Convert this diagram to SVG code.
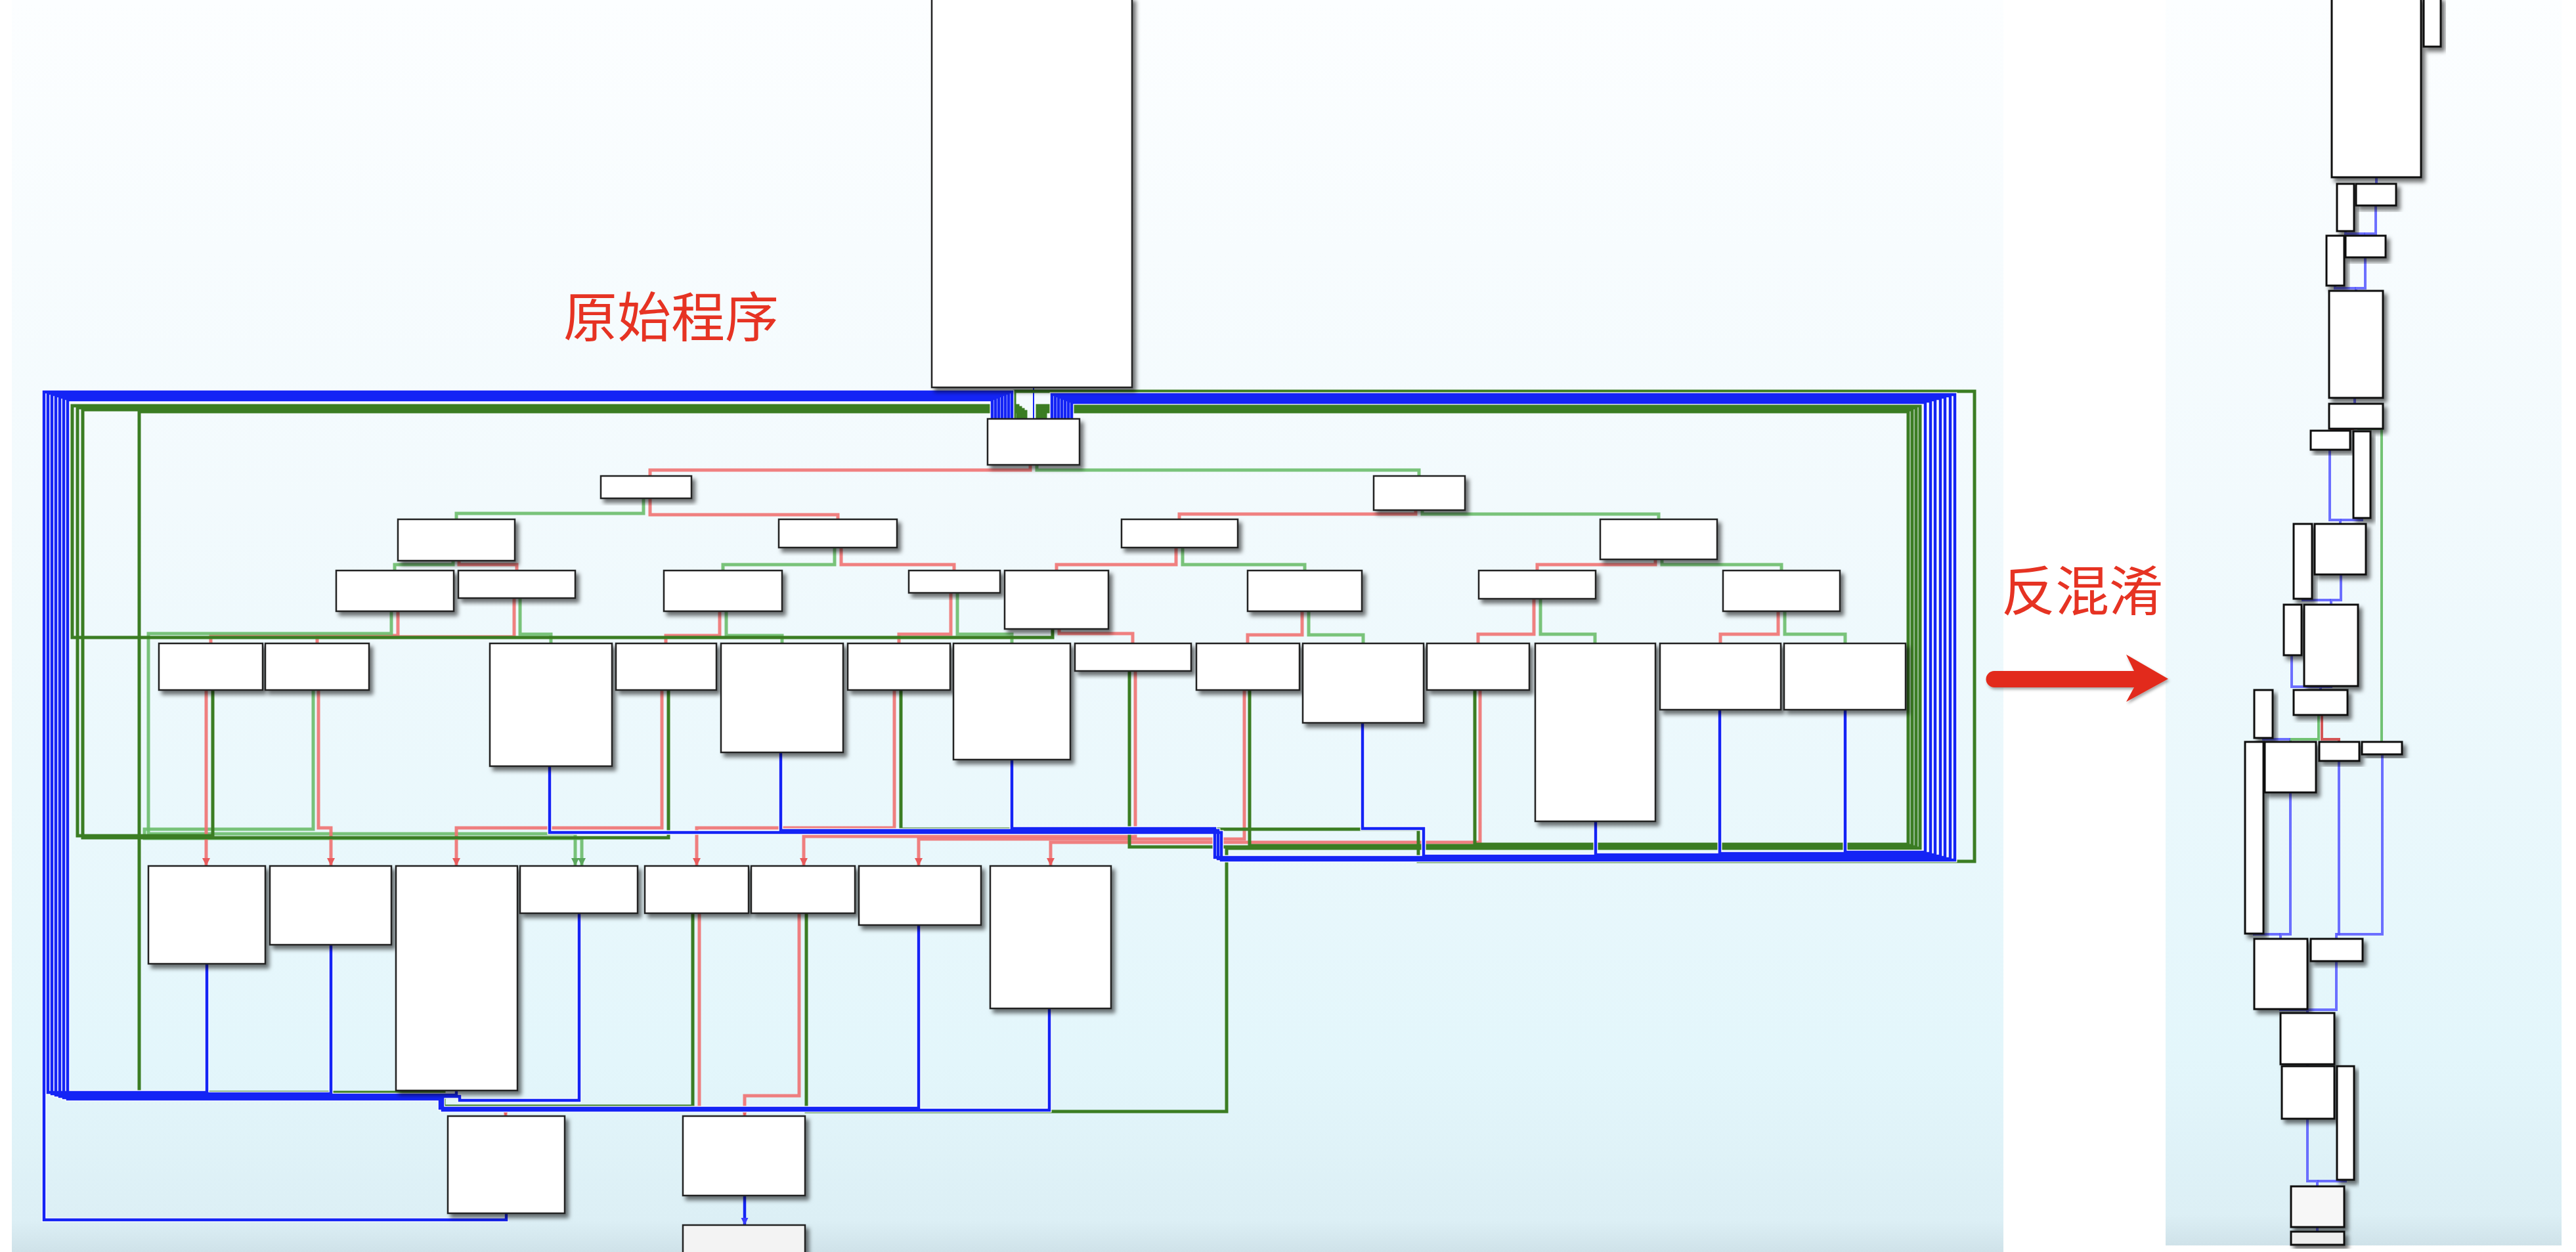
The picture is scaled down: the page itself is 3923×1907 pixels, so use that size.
<svg xmlns="http://www.w3.org/2000/svg" xmlns:xlink="http://www.w3.org/1999/xlink" width="3923" height="1907" viewBox="0 0 3923 1907">
<style>
.n{fill:#fff;stroke:#222;stroke-width:2.5;filter:url(#sh)}
.rn{fill:#fff;stroke:#111;stroke-width:3;filter:url(#sh)}
.r{fill:none;stroke:#f07272;stroke-width:5;opacity:.9}
.g{fill:none;stroke:#6cbd6c;stroke-width:5;opacity:.9}
.G{fill:none;stroke:#3b7d23;stroke-width:5}
.b{fill:none;stroke:#1424f5;stroke-width:4.5}
.w{fill:none;stroke:#fff;stroke-width:7}
.bt{fill:none;stroke:#1424f5;stroke-width:2}
.rb{fill:none;stroke:#5557ff;stroke-width:4;opacity:.85}
.rg{fill:none;stroke:#5cb85c;stroke-width:4;opacity:.85}
.rr{fill:none;stroke:#d03a3a;stroke-width:4;opacity:.85}
.lbl{font-family:"Noto Sans CJK SC","Noto Sans CJK JP",sans-serif;font-size:82px;fill:#e63323}
</style>
<defs>
<linearGradient id="bg" x1="0" y1="0" x2="0" y2="1">
<stop offset="0" stop-color="#fcfeff"/>
<stop offset="0.4" stop-color="#f2fafd"/>
<stop offset="0.85" stop-color="#e3f6fb"/>
<stop offset="0.975" stop-color="#dceff5"/>
<stop offset="1" stop-color="#cfe2e9"/>
</linearGradient>
<filter id="sh" x="-20%" y="-20%" width="150%" height="150%">
<feDropShadow dx="5" dy="6" stdDeviation="3" flood-color="#000" flood-opacity="0.55"/>
</filter>
<filter id="ash" x="-10%" y="-30%" width="130%" height="170%">
<feDropShadow dx="2" dy="3" stdDeviation="2" flood-color="#000" flood-opacity="0.35"/>
</filter>
<marker id="aR" viewBox="0 0 10 10" refX="10" refY="5" markerWidth="2.5" markerHeight="2.5" orient="auto"><path d="M0,0 L10,5 L0,10 z" fill="#e84a4a"/></marker>
<marker id="aG" viewBox="0 0 10 10" refX="10" refY="5" markerWidth="2.5" markerHeight="2.5" orient="auto"><path d="M0,0 L10,5 L0,10 z" fill="#4a9e4a"/></marker>
<marker id="aB" viewBox="0 0 10 10" refX="10" refY="5" markerWidth="2.5" markerHeight="2.5" orient="auto"><path d="M0,0 L10,5 L0,10 z" fill="#3a3cff"/></marker>
<path id="lb0" d="M771,1848 V1858 H67 V597 H1541 V638"/>
<path id="lb1" d="M315,1468 V1664 H73 V599 H1536 V638"/>
<path id="lb2" d="M504,1439 V1666 H79 V601 H1531 V638"/>
<path id="lb3" d="M695,1661 V1668 H85 V603 H1526 V638"/>
<path id="lb4" d="M882,1391 V1676 H700 V1670 H91 V605 H1521 V638"/>
<path id="lb5" d="M1399,1409 V1688 H670 V1672 H97 V607 H1516 V638"/>
<path id="lb6" d="M1598,1536 V1691 H674 V1674 H103 V609 H1511 V638"/>
<path id="rb0" d="M2810,1081 V1298 H2932 V613 H1632 V638"/>
<path id="rb1" d="M2619,1081 V1300 H2940 V611 H1627 V638"/>
<path id="rb2" d="M2430,1251 V1302 H2947 V609 H1622 V638"/>
<path id="rb3" d="M2075,1101 V1262 H2168 V1304 H2955 V607 H1617 V638"/>
<path id="rb4" d="M1541,1157 V1262 H1850 V1306 H2962 V605 H1612 V638"/>
<path id="rb5" d="M1189,1146 V1265 H1855 V1308 H2970 V603 H1607 V638"/>
<path id="rb6" d="M837,1167 V1268 H1860 V1310 H2977 V601 H1602 V638"/>
</defs>

<rect x="0" y="0" width="3923" height="1907" fill="#fff"/>
<rect id="panel-left" x="18" y="0" width="3033" height="1907" fill="url(#bg)"/>
<rect id="panel-right" x="3298" y="0" width="603" height="1897" fill="url(#bg)"/>

<g id="connectors">
<path class="bt" d="M1574,590 V638"/>
<path class="r" d="M1569,708 V716 H990 V725"/>
<path class="g" d="M1579,708 V716 H2161 V725"/>
<path class="g" d="M980,759 V782 H695 V791"/>
<path class="r" d="M990,759 V784 H1276 V791"/>
<path class="r" d="M2156,777 V783 H1796 V791"/>
<path class="g" d="M2166,777 V783 H2526 V791"/>
<path class="g" d="M690,854 V860 H601 V869"/>
<path class="r" d="M699,854 V860 H787 V869"/>
<path class="g" d="M1271,834 V860 H1101 V869"/>
<path class="r" d="M1281,834 V860 H1453 V869"/>
<path class="r" d="M1791,834 V860 H1609 V869"/>
<path class="g" d="M1801,834 V860 H1987 V869"/>
<path class="r" d="M2521,852 V860 H2341 V869"/>
<path class="g" d="M2531,852 V860 H2713 V869"/>
<path class="r" d="M606,931 V968 H321 V980"/>
<path class="r" d="M783,911 V970 H483 V980"/>
<path class="g" d="M792,911 V966 H839 V980"/>
<path class="r" d="M1096,931 V968 H1014 V980"/>
<path class="g" d="M1106,931 V968 H1191 V980"/>
<path class="r" d="M1448,903 V966 H1369 V980"/>
<path class="g" d="M1458,903 V966 H1541 V980"/>
<path class="r" d="M1613,958 V965 H1725 V980"/>
<path class="r" d="M1983,931 V967 H1900 V980"/>
<path class="g" d="M1993,931 V967 H2076 V980"/>
<path class="r" d="M2336,912 V966 H2251 V980"/>
<path class="g" d="M2346,912 V966 H2429 V980"/>
<path class="r" d="M2708,931 V966 H2620 V980"/>
<path class="g" d="M2718,931 V966 H2810 V980"/>
<path class="g" d="M596,931 V965 H226 V1270 H876 V1319" marker-end="url(#aG)"/>
<path class="g" d="M477,1051 V1263 H220 V1277 H886 V1319" marker-end="url(#aG)"/>
<path class="r" d="M314,1051 V1319" marker-end="url(#aR)"/>
<path class="r" d="M485,1051 V1261 H504 V1319" marker-end="url(#aR)"/>
<path class="r" d="M1008,1051 V1261 H695 V1319" marker-end="url(#aR)"/>
<path class="r" d="M1362,1051 V1261 H1061 V1319" marker-end="url(#aR)"/>
<path class="r" d="M1729,1022 V1274 H1224 V1319" marker-end="url(#aR)"/>
<path class="r" d="M1895,1051 V1278 H1399 V1319" marker-end="url(#aR)"/>
<path class="r" d="M2254,1051 V1283 H1600 V1319" marker-end="url(#aR)"/>
<path class="r" d="M1065,1391 V1687 H770 V1700" marker-end="url(#aR)"/>
<path class="r" d="M1217,1391 V1669 H1134 V1700" marker-end="url(#aR)"/>
<path class="G" d="M1603,958 V971 H110 V618 H1550 V638"/>
<path class="G" d="M324,1051 V1273 H118 V621 H1554 V638"/>
<path class="G" d="M1018,1051 V1276 H126 V624 H1558 V638"/>
<path class="G" d="M1055,1391 V1685 H676 V1664 H212 V627 H1562 V638"/>
<path class="G" d="M1372,1051 V1263 H2160 V1312 H3007 V596 H1545 V638"/>
<path class="G" d="M2246,1051 V1286 H2906 V627 H1592 V638"/>
<path class="G" d="M1903,1051 V1288 H2912 V624 H1588 V638"/>
<path class="G" d="M1720,1022 V1290 H2918 V621 H1584 V638"/>
<path class="G" d="M1228,1391 V1693 H1868 V1292 H2924 V618 H1580 V638"/>
<g class="w">
<use xlink:href="#lb0"/><use xlink:href="#lb1"/><use xlink:href="#lb2"/><use xlink:href="#lb3"/><use xlink:href="#lb4"/><use xlink:href="#lb5"/><use xlink:href="#lb6"/>
<use xlink:href="#rb0"/><use xlink:href="#rb1"/><use xlink:href="#rb2"/><use xlink:href="#rb3"/><use xlink:href="#rb4"/><use xlink:href="#rb5"/><use xlink:href="#rb6"/>
</g>
<g class="b">
<use xlink:href="#lb0"/><use xlink:href="#lb1"/><use xlink:href="#lb2"/><use xlink:href="#lb3"/><use xlink:href="#lb4"/><use xlink:href="#lb5"/><use xlink:href="#lb6"/>
<use xlink:href="#rb0"/><use xlink:href="#rb1"/><use xlink:href="#rb2"/><use xlink:href="#rb3"/><use xlink:href="#rb4"/><use xlink:href="#rb5"/><use xlink:href="#rb6"/>
</g>
<path class="b" d="M1134,1821 V1866" marker-end="url(#aB)"/>
</g>

<g id="right-connectors">
<path class="rb" d="M3619,270 V280"/>
<path class="rb" d="M3618,313 V356 H3602 V359"/>
<path class="rb" d="M3572,352 V356 H3602"/>
<path class="rb" d="M3602,392 V439 H3588 V443"/>
<path class="rb" d="M3556,435 V439 H3588"/>
<path class="rb" d="M3586,606 V615"/>
<path class="rr" d="M3585,653 H3550 V656"/>
<path class="rg" d="M3590,653 H3627 V1130"/>
<path class="rb" d="M3548,685 V792 H3564 V798"/>
<path class="rb" d="M3597,789 V792 H3564"/>
<path class="rb" d="M3565,875 V914 H3550 V921"/>
<path class="rb" d="M3507,912 V914 H3550"/>
<path class="rb" d="M3490,998 V1046 H3534 V1051"/>
<path class="rb" d="M3550,1045 V1046 H3534"/>
<path class="rg" d="M3531,1089 V1126 H3488 V1130"/>
<path class="rr" d="M3536,1089 V1126 H3562 V1130"/>
<path class="rb" d="M3447,1124 V1126 H3488"/>
<path class="rb" d="M3488,1207 V1423 H3473 V1430"/>
<path class="rb" d="M3433,1422 V1423 H3473"/>
<path class="rb" d="M3562,1159 V1423 H3558 V1430"/>
<path class="rb" d="M3628,1149 V1423 H3558"/>
<path class="rb" d="M3558,1464 V1538 H3514 V1543"/>
<path class="rb" d="M3473,1537 V1538 H3514"/>
<path class="rb" d="M3514,1621 V1624"/>
<path class="rb" d="M3514,1704 V1799 H3529 V1807"/>
<path class="rb" d="M3572,1797 V1799 H3529"/>
<path class="rb" d="M3529,1869 V1876"/>
</g>

<g id="nodes-left">
<g id="T"><rect class="n" x="1419" y="-4" width="305" height="594"/></g>
<g id="H"><rect class="n" x="1504" y="638" width="140" height="70"/></g>
<g id="L2a"><rect class="n" x="915" y="725" width="138" height="34"/></g>
<g id="L2b"><rect class="n" x="2092" y="725" width="139" height="52"/></g>
<g id="A"><rect class="n" x="606" y="791" width="178" height="63"/></g>
<g id="B"><rect class="n" x="1186" y="791" width="180" height="43"/></g>
<g id="C"><rect class="n" x="1708" y="791" width="177" height="43"/></g>
<g id="D"><rect class="n" x="2437" y="791" width="178" height="61"/></g>
<g id="a4"><rect class="n" x="512" y="869" width="179" height="62"/></g>
<g id="b4"><rect class="n" x="698" y="869" width="178" height="42"/></g>
<g id="c4"><rect class="n" x="1011" y="869" width="180" height="62"/></g>
<g id="d4"><rect class="n" x="1384" y="869" width="139" height="34"/></g>
<g id="e4"><rect class="n" x="1530" y="869" width="158" height="89"/></g>
<g id="f4"><rect class="n" x="1900" y="869" width="174" height="62"/></g>
<g id="g4"><rect class="n" x="2252" y="869" width="178" height="43"/></g>
<g id="h4"><rect class="n" x="2624" y="869" width="178" height="62"/></g>
<g id="n1"><rect class="n" x="242" y="980" width="158" height="71"/></g>
<g id="n2"><rect class="n" x="404" y="980" width="158" height="71"/></g>
<g id="n3"><rect class="n" x="746" y="980" width="186" height="187"/></g>
<g id="n4"><rect class="n" x="938" y="980" width="153" height="71"/></g>
<g id="n5"><rect class="n" x="1098" y="980" width="186" height="166"/></g>
<g id="n6"><rect class="n" x="1291" y="980" width="156" height="71"/></g>
<g id="n7"><rect class="n" x="1452" y="980" width="178" height="177"/></g>
<g id="n8"><rect class="n" x="1637" y="980" width="177" height="42"/></g>
<g id="n9"><rect class="n" x="1822" y="980" width="157" height="71"/></g>
<g id="n10"><rect class="n" x="1984" y="980" width="184" height="121"/></g>
<g id="n11"><rect class="n" x="2173" y="980" width="156" height="71"/></g>
<g id="n12"><rect class="n" x="2338" y="980" width="183" height="271"/></g>
<g id="n13"><rect class="n" x="2528" y="980" width="184" height="101"/></g>
<g id="n14"><rect class="n" x="2717" y="980" width="185" height="101"/></g>
<g id="p1"><rect class="n" x="226" y="1319" width="178" height="149"/></g>
<g id="p2"><rect class="n" x="411" y="1319" width="185" height="120"/></g>
<g id="p3"><rect class="n" x="603" y="1319" width="185" height="342"/></g>
<g id="p4"><rect class="n" x="792" y="1319" width="179" height="72"/></g>
<g id="p5"><rect class="n" x="982" y="1319" width="158" height="72"/></g>
<g id="p6"><rect class="n" x="1144" y="1319" width="158" height="72"/></g>
<g id="p7"><rect class="n" x="1308" y="1319" width="186" height="90"/></g>
<g id="p8"><rect class="n" x="1508" y="1319" width="184" height="217"/></g>
<g id="q1"><rect class="n" x="682" y="1700" width="178" height="148"/></g>
<g id="q2"><rect class="n" x="1040" y="1700" width="186" height="121"/></g>
<g id="q3"><rect class="n" x="1040" y="1866" width="186" height="50" style="fill:#f3f3f3"/></g>
</g>

<g id="nodes-right">
<g id="r1"><rect class="rn" x="3551" y="-4" width="136" height="274"/></g>
<g id="r2"><rect class="rn" x="3691" y="-4" width="26" height="75"/></g>
<g id="r3"><rect class="rn" x="3559" y="280" width="26" height="72"/></g>
<g id="r4"><rect class="rn" x="3588" y="280" width="61" height="33"/></g>
<g id="r5"><rect class="rn" x="3543" y="359" width="27" height="76"/></g>
<g id="r6"><rect class="rn" x="3572" y="359" width="61" height="33"/></g>
<g id="r7"><rect class="rn" x="3547" y="443" width="82" height="163"/></g>
<g id="r8"><rect class="rn" x="3547" y="615" width="82" height="38"/></g>
<g id="r9"><rect class="rn" x="3519" y="656" width="60" height="29"/></g>
<g id="r10"><rect class="rn" x="3584" y="657" width="26" height="132"/></g>
<g id="r11"><rect class="rn" x="3493" y="798" width="28" height="114"/></g>
<g id="r12"><rect class="rn" x="3525" y="798" width="78" height="77"/></g>
<g id="r13"><rect class="rn" x="3478" y="921" width="27" height="77"/></g>
<g id="r14"><rect class="rn" x="3509" y="921" width="82" height="124"/></g>
<g id="r15"><rect class="rn" x="3493" y="1051" width="82" height="38"/></g>
<g id="r16"><rect class="rn" x="3433" y="1051" width="28" height="73"/></g>
<g id="r17"><rect class="rn" x="3419" y="1130" width="28" height="292"/></g>
<g id="r18"><rect class="rn" x="3449" y="1130" width="78" height="77"/></g>
<g id="r19"><rect class="rn" x="3532" y="1130" width="61" height="29"/></g>
<g id="r20"><rect class="rn" x="3597" y="1130" width="61" height="19"/></g>
<g id="r21"><rect class="rn" x="3433" y="1430" width="81" height="107"/></g>
<g id="r22"><rect class="rn" x="3519" y="1430" width="79" height="34"/></g>
<g id="r23"><rect class="rn" x="3473" y="1543" width="82" height="78"/></g>
<g id="r24"><rect class="rn" x="3475" y="1624" width="80" height="80"/></g>
<g id="r25"><rect class="rn" x="3559" y="1624" width="26" height="173"/></g>
<g id="r26"><rect class="rn" x="3489" y="1807" width="81" height="62" style="fill:#f7f7f7"/></g>
<g id="r27"><rect class="rn" x="3489" y="1876" width="81" height="20" style="fill:#eeeeee"/></g>
</g>

<g id="labels">
<text class="lbl" x="858" y="513">原始程序</text>
<text class="lbl" x="3048" y="930">反混淆</text>
</g>
<g id="big-arrow">
<path d="M3037,1022 H3250 L3238,997 L3302,1034 L3238,1069 L3250,1047 H3037 A12.5,12.5 0 0 1 3037,1022 Z" fill="#e22a1b" filter="url(#ash)"/>
</g>
</svg>
